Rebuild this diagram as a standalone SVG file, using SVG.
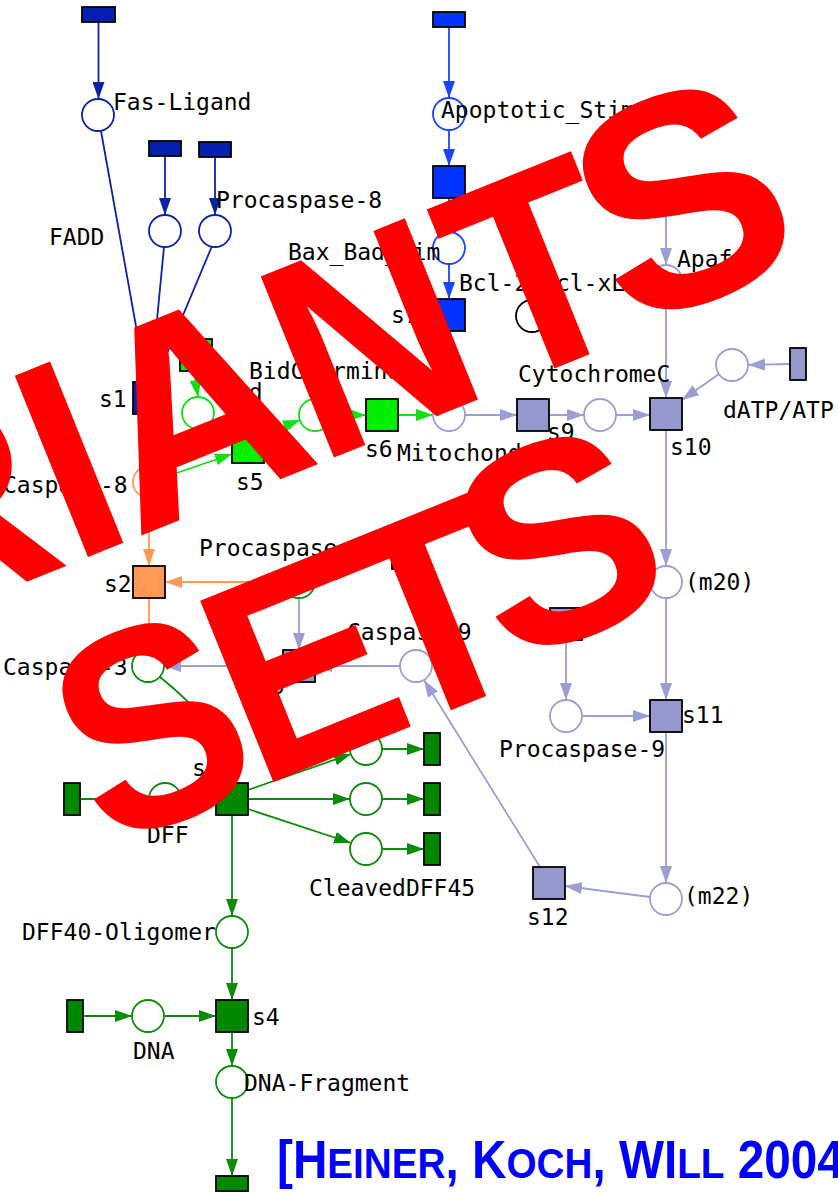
<svg xmlns="http://www.w3.org/2000/svg" width="838" height="1192" viewBox="0 0 838 1192">
<style>
.lbl{font-family:"DejaVu Sans Mono","Liberation Mono",monospace;font-size:23px;fill:#000}
.pl{fill:#fff;stroke-width:1.8}
.tr{stroke:#000;stroke-width:1.8}
.e{fill:none;stroke-width:1.8}
.db{stroke:#0a22aa}.bb{stroke:#1a44ff}.bg{stroke:#11e011}.or{stroke:#ff9955}.lv{stroke:#9a9ed4}.dg{stroke:#0a8c0a}.bk{stroke:#000}
.fdb{fill:#0420b0}.fbb{fill:#0033ff}.fbg{fill:#00ee00}.for{fill:#ff9955}.flv{fill:#9598cc}.fdg{fill:#008800}
.wm{font-family:"Liberation Sans",Arial,sans-serif;font-weight:bold;font-size:284px;fill:#ff0000;text-anchor:middle}
.cite{font-family:"Liberation Sans",Arial,sans-serif;font-weight:bold;fill:#0000ff}
</style>
<defs>
<marker id="aDB" markerWidth="17" markerHeight="12" refX="17" refY="6" orient="auto" markerUnits="userSpaceOnUse"><path d="M0,0 L17,6 L0,12 z" fill="#0a22aa"/></marker>
<marker id="aBB" markerWidth="17" markerHeight="12" refX="17" refY="6" orient="auto" markerUnits="userSpaceOnUse"><path d="M0,0 L17,6 L0,12 z" fill="#1a44ff"/></marker>
<marker id="aBG" markerWidth="17" markerHeight="12" refX="17" refY="6" orient="auto" markerUnits="userSpaceOnUse"><path d="M0,0 L17,6 L0,12 z" fill="#11e011"/></marker>
<marker id="aOR" markerWidth="17" markerHeight="12" refX="17" refY="6" orient="auto" markerUnits="userSpaceOnUse"><path d="M0,0 L17,6 L0,12 z" fill="#ff9955"/></marker>
<marker id="aLV" markerWidth="17" markerHeight="12" refX="17" refY="6" orient="auto" markerUnits="userSpaceOnUse"><path d="M0,0 L17,6 L0,12 z" fill="#9a9ed4"/></marker>
<marker id="aDG" markerWidth="17" markerHeight="12" refX="17" refY="6" orient="auto" markerUnits="userSpaceOnUse"><path d="M0,0 L17,6 L0,12 z" fill="#0a8c0a"/></marker>
</defs>
<rect width="838" height="1192" fill="#fff"/>

<g id="connectors">
<g class="e db" marker-end="url(#aDB)">
<path d="M98.5,22 L98.5,99"/><path d="M165,156 L165,215"/><path d="M215,157 L215,215"/>
<path d="M101,131 L146,382"/><path d="M164,247 L151,382"/><path d="M212,246 L155,382"/>
<path d="M149,414 L149,466"/>
</g>
<g class="e or" marker-end="url(#aOR)">
<path d="M149,498 L149,566"/><path d="M283,582 L165,582"/><path d="M149,598 L149,650"/>
</g>
<g class="e bg" marker-end="url(#aBG)">
<path d="M194,371 L198,397"/><path d="M210,424 L233,440"/><path d="M165,477 L232,454"/>
<path d="M264,434 L300,420"/><path d="M331,415 L366,415"/><path d="M398,415 L433,415"/>
</g>
<g class="e bb" marker-end="url(#aBB)">
<path d="M449,27 L449,98"/><path d="M449,130 L449,166"/><path d="M449,198 L449,232"/>
<path d="M449,264 L449,299"/><path d="M449,331 L449,399"/>
</g>
<g class="e lv" marker-end="url(#aLV)">
<path d="M666,212 L666,265"/><path d="M666,297 L666,398"/><path d="M790,364 L748,365"/>
<path d="M719,374 L682,400"/><path d="M465,415 L517,415"/><path d="M549,415 L584,415"/>
<path d="M616,415 L650,415"/><path d="M666,430 L666,566"/><path d="M666,598 L666,700"/>
<path d="M566,640 L566,700"/><path d="M582,716 L650,716"/><path d="M666,732 L666,883"/>
<path d="M650,897 L565,886"/><path d="M540,867 L424,680"/><path d="M400,666 L315,666"/>
<path d="M283,666 L164,666"/><path d="M299,598 L299,650"/>
</g>
<g class="e dg" marker-end="url(#aDG)">
<path d="M392,553 L314,577"/><path d="M160,677 Q232,735 232,783"/>
<path d="M80,799 L149,799"/><path d="M181,799 L216,799"/>
<path d="M248,790 L351,754"/><path d="M248,799 L350,799"/><path d="M248,809 L351,843"/>
<path d="M382,749 L424,749"/><path d="M382,799 L424,799"/><path d="M382,849 L424,849"/>
<path d="M232,815 L232,916"/><path d="M232,948 L232,1000"/>
<path d="M83,1016 L132,1016"/><path d="M164,1016 L216,1016"/>
<path d="M232,1032 L232,1066"/><path d="M232,1098 L232,1176"/>
</g>
</g>

<g id="src_fas"><rect class="tr fdb" x="82" y="7" width="33" height="15"/></g>
<g id="src_fadd"><rect class="tr fdb" x="149" y="141" width="32" height="15"/></g>
<g id="src_pc8"><rect class="tr fdb" x="199" y="142" width="32" height="15"/></g>
<g id="p_fasligand"><circle class="pl db" cx="98" cy="115" r="16"/><text class="lbl" x="113" y="110">Fas-Ligand</text></g>
<g id="p_fadd"><circle class="pl db" cx="165" cy="231" r="16"/><text class="lbl" x="49" y="245">FADD</text></g>
<g id="p_procasp8"><circle class="pl db" cx="215" cy="231" r="16"/><text class="lbl" x="216" y="208">Procaspase-8</text></g>
<g id="s1"><rect class="tr fdb" x="133" y="382" width="32" height="32"/><text class="lbl" x="99" y="407">s1</text></g>
<g id="src_bid"><rect class="tr fbg" x="180" y="339" width="32" height="32"/></g>
<g id="p_bid"><circle class="pl bg" cx="198" cy="413" r="16"/><text class="lbl" x="221" y="400">Bid</text></g>
<g id="p_bidcterm"><circle class="pl bg" cx="315" cy="415" r="16"/><text class="lbl" x="249" y="379">BidCTerminal</text></g>
<g id="s5"><rect class="tr fbg" x="232" y="431" width="32" height="32"/><text class="lbl" x="236" y="490">s5</text></g>
<g id="s6"><rect class="tr fbg" x="366" y="399" width="32" height="32"/><text class="lbl" x="365" y="457">s6</text></g>
<g id="p_casp8"><circle class="pl or" cx="149" cy="482" r="16"/><text class="lbl" x="3" y="493">Caspase-8</text></g>
<g id="s2"><rect class="tr for" x="133" y="566" width="32" height="32"/><text class="lbl" x="104" y="592">s2</text></g>

<g id="src_apop"><rect class="tr fbb" x="433" y="12" width="32" height="15"/></g>
<g id="p_apopstim"><circle class="pl bb" cx="449" cy="114" r="16"/><text class="lbl" x="441" y="118">Apoptotic_Stimuli</text></g>
<g id="t_apop"><rect class="tr fbb" x="433" y="166" width="32" height="32"/></g>
<g id="p_baxbadbim"><circle class="pl bb" cx="449" cy="248" r="16"/><text class="lbl" x="288" y="260">Bax_Bad_Bim</text></g>
<g id="s7"><rect class="tr fbb" x="433" y="299" width="32" height="32"/><text class="lbl" x="391" y="323">s7</text></g>
<g id="p_bcl2"><circle class="pl bk" cx="532" cy="316" r="16"/><text class="lbl" x="459" y="291">Bcl-2_Bcl-xL</text></g>

<g id="p_mito"><circle class="pl lv" cx="449" cy="415" r="16"/><text class="lbl" x="397" y="461">Mitochondrion</text></g>
<g id="s9"><rect class="tr flv" x="517" y="399" width="32" height="32"/><text class="lbl" x="547" y="440">s9</text></g>
<g id="p_cytc"><circle class="pl lv" cx="600" cy="415" r="16"/><text class="lbl" x="518" y="382">CytochromeC</text></g>
<g id="src_apaf"><rect class="tr flv" x="650" y="198" width="32" height="14"/></g>
<g id="p_apaf"><circle class="pl lv" cx="666" cy="281" r="16"/><text class="lbl" x="677" y="267">Apaf-1</text></g>
<g id="src_datp"><rect class="tr flv" x="790" y="348" width="16" height="32"/></g>
<g id="p_datp"><circle class="pl lv" cx="732" cy="365" r="16"/><text class="lbl" x="723" y="418">dATP/ATP</text></g>
<g id="s10"><rect class="tr flv" x="650" y="398" width="32" height="32"/><text class="lbl" x="670" y="455">s10</text></g>
<g id="p_m20"><circle class="pl lv" cx="666" cy="582" r="16"/><text class="lbl" x="685" y="590">(m20)</text></g>
<g id="t_pc9"><rect class="tr flv" x="550" y="608" width="32" height="32"/></g>
<g id="p_procasp9"><circle class="pl lv" cx="566" cy="716" r="16"/><text class="lbl" x="499" y="757">Procaspase-9</text></g>
<g id="s11"><rect class="tr flv" x="650" y="700" width="32" height="32"/><text class="lbl" x="682" y="723">s11</text></g>
<g id="p_m22"><circle class="pl lv" cx="666" cy="899" r="16"/><text class="lbl" x="684" y="904">(m22)</text></g>
<g id="s12"><rect class="tr flv" x="533" y="867" width="32" height="32"/><text class="lbl" x="527" y="925">s12</text></g>
<g id="p_casp9"><circle class="pl lv" cx="416" cy="666" r="16"/><text class="lbl" x="347" y="640">Caspase-9</text></g>
<g id="s3"><rect class="tr flv" x="283" y="650" width="32" height="32"/><text class="lbl" x="257" y="694">s3</text></g>

<g id="src_pc3"><rect class="tr fdg" x="392" y="537" width="16" height="32"/></g>
<g id="p_procasp3"><circle class="pl dg" cx="299" cy="582" r="16"/><text class="lbl" x="199" y="556">Procaspase-3</text></g>
<g id="p_casp3"><circle class="pl dg" cx="148" cy="666" r="16"/><text class="lbl" x="3" y="675">Caspase-3</text></g>
<g id="src_dff"><rect class="tr fdg" x="64" y="783" width="16" height="32"/></g>
<g id="p_dff"><circle class="pl dg" cx="165" cy="799" r="16"/><text class="lbl" x="147" y="843">DFF</text></g>
<g id="s8"><rect class="tr fdg" x="216" y="783" width="32" height="32"/><text class="lbl" x="192" y="776">s8</text></g>
<g id="p_dff40"><circle class="pl dg" cx="366" cy="749" r="16"/></g>
<g id="p_dff45"><circle class="pl dg" cx="366" cy="799" r="16"/></g>
<g id="p_cleaved"><circle class="pl dg" cx="366" cy="849" r="16"/><text class="lbl" x="309" y="896">CleavedDFF45</text></g>
<g id="sink1"><rect class="tr fdg" x="424" y="733" width="16" height="32"/></g>
<g id="sink2"><rect class="tr fdg" x="424" y="783" width="16" height="32"/></g>
<g id="sink3"><rect class="tr fdg" x="424" y="833" width="16" height="32"/></g>
<g id="p_oligo"><circle class="pl dg" cx="232" cy="932" r="16"/><text class="lbl" x="22" y="940">DFF40-Oligomer</text></g>
<g id="src_dna"><rect class="tr fdg" x="67" y="1000" width="16" height="32"/></g>
<g id="p_dna"><circle class="pl dg" cx="148" cy="1016" r="16"/><text class="lbl" x="133" y="1059">DNA</text></g>
<g id="s4"><rect class="tr fdg" x="216" y="1000" width="32" height="32"/><text class="lbl" x="252" y="1025">s4</text></g>
<g id="p_dnafrag"><circle class="pl dg" cx="232" cy="1082" r="16"/><text class="lbl" x="244" y="1091">DNA-Fragment</text></g>
<g id="sink_dna"><rect class="tr fdg" x="216" y="1176" width="32" height="15"/></g>

<g id="citation" transform="translate(277,1178) scale(0.9,1)"><text class="cite" x="0" y="0" font-size="53">[H<tspan font-size="43">EINER</tspan>, K<tspan font-size="43">OCH</tspan>, WI<tspan font-size="43">LL</tspan> 2004</text></g>

<g id="watermark" transform="translate(88,557) rotate(-22)">
<text class="wm" transform="translate(-489,0) scale(0.93,1)">V</text>
<text class="wm" transform="translate(-305,0) scale(0.93,1)">A</text>
<text class="wm" transform="translate(-113,0) scale(0.93,1)">R</text>
<text class="wm" transform="translate(19,0) scale(0.93,1)">I</text>
<text class="wm" transform="translate(153,0)">A</text>
<text class="wm" transform="translate(343,0) scale(0.93,1)">N</text>
<text class="wm" transform="translate(522,0) scale(0.93,1)">T</text>
<text class="wm" style="font-size:300px" transform="translate(684,-6)">S</text>
<text class="wm" transform="translate(-298,278) scale(0.93,1)">&amp;</text>
<text class="wm" transform="translate(-5,278) scale(0.93,1)">S</text>
<text class="wm" transform="translate(158,278) scale(0.93,1)">E</text>
<text class="wm" transform="translate(298,278) scale(0.93,1)">T</text>
<text class="wm" transform="translate(442,259)">S</text>
</g>
</svg>
